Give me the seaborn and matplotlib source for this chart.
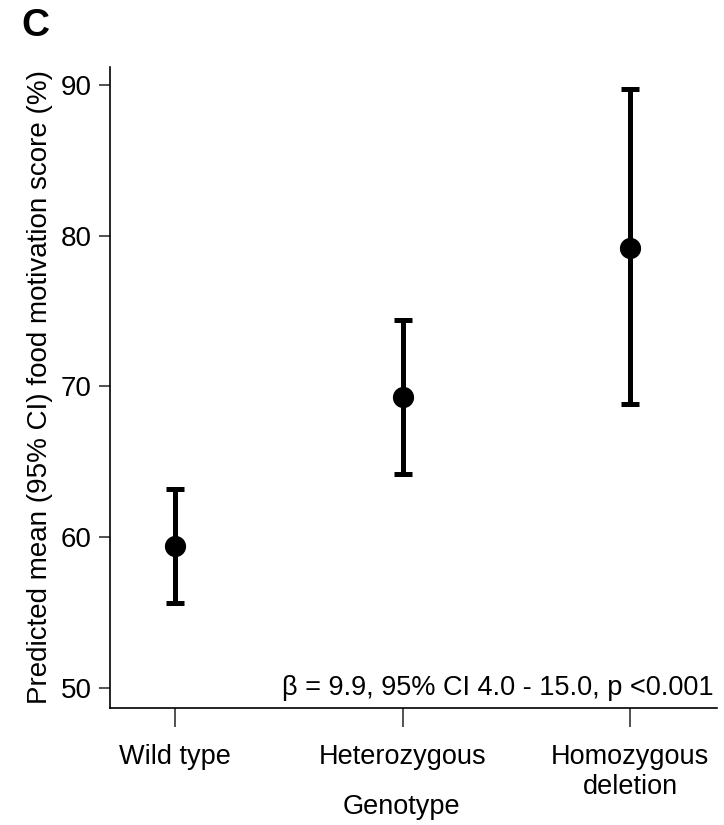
import pandas as pd
import numpy as np
import matplotlib.pyplot as plt
import seaborn as sns

# data
genotypes = ['Wild type', 'Heterozygous', 'Homozygous\ndeletion']
mean_score = [59.4, 69.3, 79.2]
ci_low = [55.6, 64.2, 68.8]
ci_high = [63.2, 74.4, 89.7]
stats_text = 'β = 9.9, 95% CI 4.0 - 15.0, p <0.001'

sns.set_theme(style="ticks")
plt.rcParams['font.family'] = ['Liberation Sans', 'DejaVu Sans']
plt.rcParams.update({'text.color': 'black', 'axes.labelcolor': 'black',
                     'xtick.color': 'black', 'ytick.color': 'black'})

df = pd.DataFrame({'Genotype': genotypes, 'Mean': mean_score,
                   'Low': ci_low, 'High': ci_high})

fig = plt.figure(figsize=(7.24, 8.25), dpi=100)
ax = fig.add_axes([0.152, 0.142, 0.838, 0.777])

x = np.arange(len(df))
ax.errorbar(x, df['Mean'],
            yerr=[df['Mean'] - df['Low'], df['High'] - df['Mean']],
            fmt='none', ecolor='black', elinewidth=3.6, capsize=6.5, capthick=3.6,
            zorder=2)
sns.scatterplot(data=df, x='Genotype', y='Mean', color='black', s=200,
                edgecolor='black', ax=ax, zorder=3)

ax.set_xlim(-0.286, 2.38)
ax.set_ylim(48.67, 91.2)
ax.set_yticks([50, 60, 70, 80, 90])
ax.set_xticks(x)
ax.set_xticklabels(df['Genotype'])
sns.despine(ax=ax)
for s in ['left', 'bottom']:
    ax.spines[s].set_linewidth(1.2)
    ax.spines[s].set_color('black')
ax.tick_params(axis='both', length=8, width=1.2, color='#333333',
               labelsize=20, pad=5)
ax.tick_params(axis='x', length=14, pad=12, labelsize=19.5)

ax.set_xlabel('Genotype', fontsize=19.5)
ax.xaxis.set_label_coords(0.48, -0.135)
ax.set_ylabel('Predicted mean (95% CI) food motivation score (%)', fontsize=20,
              labelpad=6)
ax.text(0.995, 0.031, stats_text, transform=ax.transAxes, ha='right',
        va='center', fontsize=19.5)

fig.text(0.03, 0.968, 'C', fontsize=28, fontweight='bold', va='center')

fig.savefig('out.png', dpi=100)
